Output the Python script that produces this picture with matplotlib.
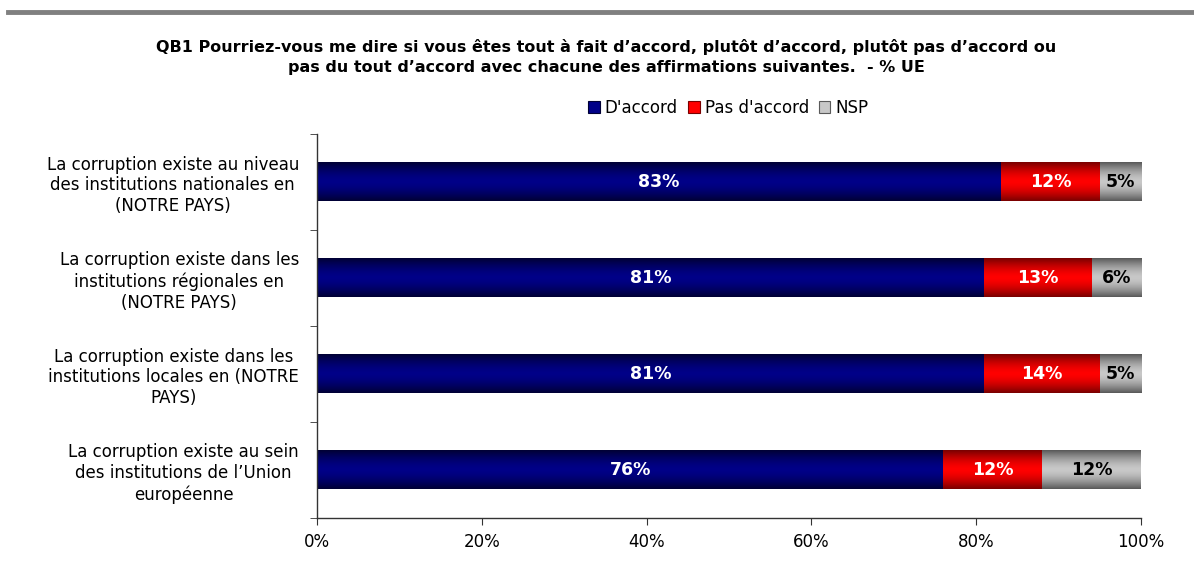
import numpy as np
import matplotlib.pyplot as plt
from matplotlib.lines import Line2D
from matplotlib.patches import Patch
from matplotlib.colors import LinearSegmentedColormap
from matplotlib.ticker import FixedLocator, FuncFormatter

categories = [
    "La corruption existe au niveau\ndes institutions nationales en\n(NOTRE PAYS)",
    "La corruption existe dans les\ninstitutions régionales en\n(NOTRE PAYS)",
    "La corruption existe dans les\ninstitutions locales en (NOTRE\nPAYS)",
    "La corruption existe au sein\ndes institutions de l’Union\neuropéenne",
]
series_names = ["D'accord", "Pas d'accord", "NSP"]
accord = [83, 81, 81, 76]
pas_accord = [12, 13, 14, 12]
nsp = [5, 6, 5, 12]

title = ("QB1 Pourriez-vous me dire si vous êtes tout à fait d’accord, plutôt d’accord, plutôt pas d’accord ou\n"
         "pas du tout d’accord avec chacune des affirmations suivantes.  - % UE")

# couleurs: (bord, centre) pour un dégradé vertical
shades = [("#000035", "#000088"), ("#7a0000", "#ff0000"), ("#5a5a5a", "#c8c8c8")]
text_colors = ["white", "white", "black"]

plt.rcParams['font.family'] = ['DejaVu Sans']

fig = plt.figure(figsize=(11.94, 5.71), dpi=100)
ax = fig.add_axes([0.2655, 0.0928, 0.6901, 0.6725])

y = np.arange(len(categories))
bar_h = 0.40
values = [accord, pas_accord, nsp]
left = np.zeros(len(categories))

# profil du dégradé: sombre en haut et en bas, clair au centre
prof = np.linspace(-1, 1, 64)
prof = 1 - np.abs(prof) ** 1.6
grad = prof.reshape(-1, 1)

for vals, (edge, mid), tc in zip(values, shades, text_colors):
    cmap = LinearSegmentedColormap.from_list("g", [edge, mid])
    bars = ax.barh(y, vals, left=left, height=bar_h, color=mid, linewidth=0)
    for b, v in zip(bars, vals):
        x0, y0 = b.get_x(), b.get_y()
        w, h = b.get_width(), b.get_height()
        ax.imshow(grad, cmap=cmap, vmin=0, vmax=1, aspect='auto',
                  extent=[x0, x0 + w, y0 + h, y0], zorder=2, interpolation='bilinear')
        ax.text(x0 + w / 2, y0 + h / 2, f"{v}%", ha='center', va='center',
                color=tc, fontsize=12.5, fontweight='bold', zorder=3)
    left = left + np.array(vals)

ax.set_xlim(0, 100)
ax.set_ylim(len(categories) - 0.5, -0.5)

ax.set_xticks(np.arange(0, 101, 20))
ax.xaxis.set_major_formatter(FuncFormatter(lambda v, p: f"{int(v)}%"))
ax.tick_params(axis='x', direction='out', length=5, labelsize=12, pad=6, color='#333333')

ax.set_yticks(y)
ax.set_yticklabels(categories, fontsize=12, multialignment='center')
ax.tick_params(axis='y', which='major', length=0, pad=13)
ax.yaxis.set_minor_locator(FixedLocator(np.arange(-0.5, len(categories), 1)))
ax.tick_params(axis='y', which='minor', direction='out', length=5, color='#333333')

for s in ['top', 'right']:
    ax.spines[s].set_visible(False)
for s in ['left', 'bottom']:
    ax.spines[s].set_color('#333333')
    ax.spines[s].set_linewidth(1)

handles = [Patch(facecolor=m, edgecolor=e, linewidth=0.8) for e, m in shades]
fig.legend(handles, series_names, loc='center', bbox_to_anchor=(0.61, 0.811), ncol=3,
           frameon=False, fontsize=12, handlelength=0.7, handleheight=0.7,
           handletextpad=0.3, columnspacing=0.6)

fig.text(0.508, 0.9, title, ha='center', va='center', fontsize=11.5,
         fontweight='bold', linespacing=1.45)

fig.add_artist(Line2D([0.007, 1.0], [0.979, 0.979], color='#808080', linewidth=3.5,
                      transform=fig.transFigure))

fig.savefig("out.png", dpi=100)
